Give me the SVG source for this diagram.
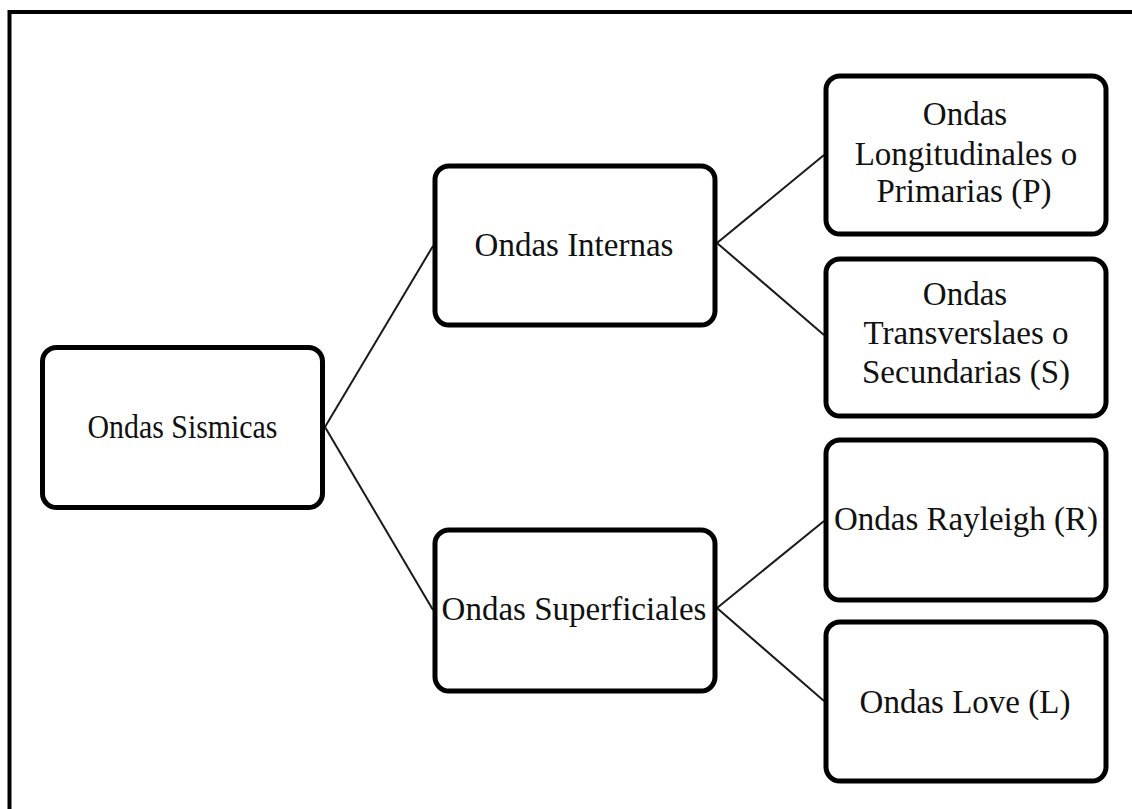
<svg xmlns="http://www.w3.org/2000/svg" width="1132" height="809" viewBox="0 0 1132 809">
  <style>
    .box { fill: #ffffff; stroke: #000000; stroke-width: 5; }
    .label { font-family: "Liberation Serif", "Times New Roman", serif; font-size: 33px; fill: #111111; text-anchor: middle; }
    .link { stroke: #1a1a1a; stroke-width: 2; fill: none; }
  </style>
  <rect x="0" y="0" width="1132" height="809" fill="#ffffff"/>
  <!-- outer frame -->
  <rect x="9.5" y="12" width="1140" height="820" fill="none" stroke="#000000" stroke-width="4"/>

  <g id="connectors">
    <line class="link" x1="325" y1="427" x2="433" y2="246"/>
    <line class="link" x1="325" y1="427" x2="433" y2="610"/>
    <line class="link" x1="717" y1="243" x2="824" y2="155"/>
    <line class="link" x1="717" y1="243" x2="824" y2="335"/>
    <line class="link" x1="717" y1="608" x2="824" y2="521"/>
    <line class="link" x1="717" y1="608" x2="824" y2="701"/>
  </g>

  <g id="ondas-sismicas">
    <rect class="box" x="42.5" y="347.5" width="280" height="160" rx="14"/>
    <text class="label" x="182.5" y="438" textLength="190" lengthAdjust="spacingAndGlyphs">Ondas Sismicas</text>
  </g>

  <g id="ondas-internas">
    <rect class="box" x="435" y="166" width="280" height="159" rx="14"/>
    <text class="label" x="574" y="256">Ondas Internas</text>
  </g>

  <g id="ondas-superficiales">
    <rect class="box" x="435" y="530" width="280" height="161" rx="14"/>
    <text class="label" x="574" y="620">Ondas Superficiales</text>
  </g>

  <g id="ondas-primarias">
    <rect class="box" x="826" y="76" width="280" height="158" rx="14"/>
    <text class="label" x="965" y="125">Ondas</text>
    <text class="label" x="966" y="165">Longitudinales o</text>
    <text class="label" x="964" y="202">Primarias (P)</text>
  </g>

  <g id="ondas-secundarias">
    <rect class="box" x="826" y="259" width="280" height="157" rx="14"/>
    <text class="label" x="965" y="305">Ondas</text>
    <text class="label" x="966" y="344">Transverslaes o</text>
    <text class="label" x="966" y="383">Secundarias (S)</text>
  </g>

  <g id="ondas-rayleigh">
    <rect class="box" x="826" y="440" width="280" height="160" rx="14"/>
    <text class="label" x="966" y="530">Ondas Rayleigh (R)</text>
  </g>

  <g id="ondas-love">
    <rect class="box" x="826" y="622" width="280" height="159" rx="14"/>
    <text class="label" x="965" y="713">Ondas Love (L)</text>
  </g>
</svg>
